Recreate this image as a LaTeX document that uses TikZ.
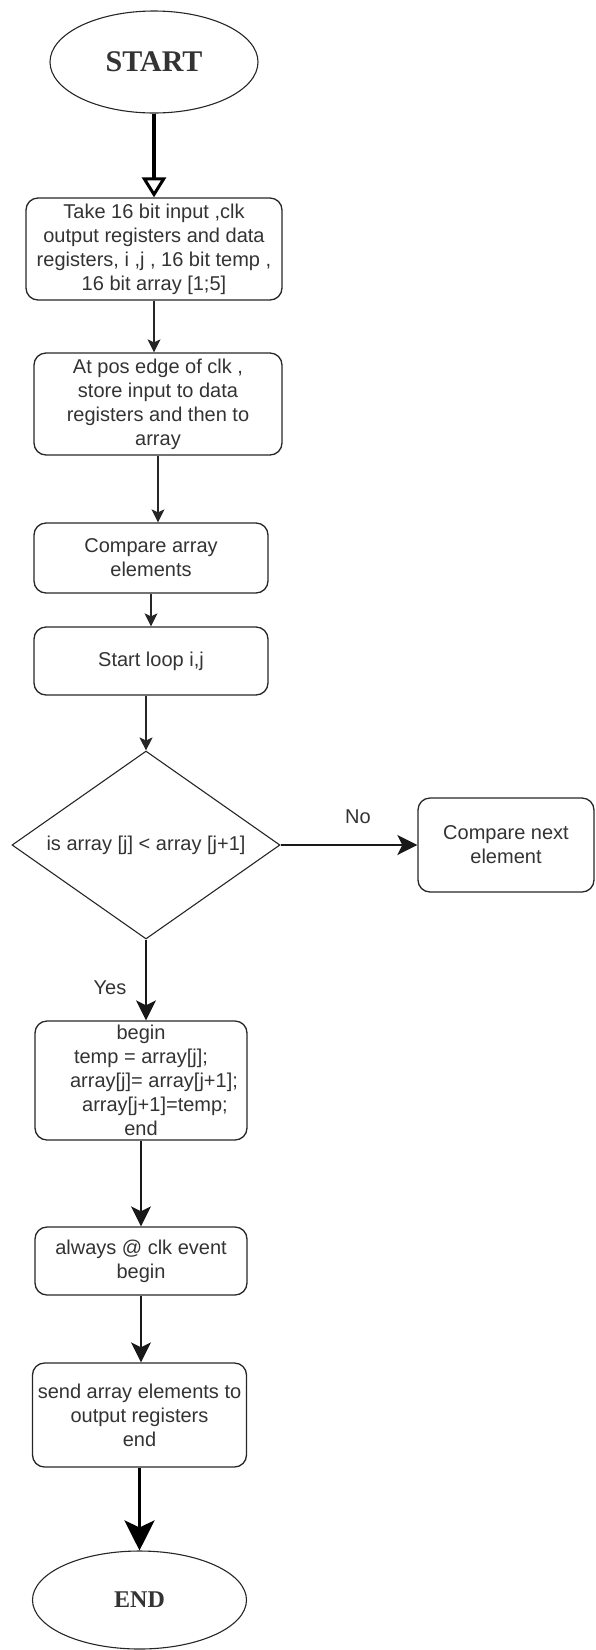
\documentclass[tikz,border=0pt]{standalone}
\usepackage{fontspec}
\setmainfont{Liberation Sans}
\newfontfamily\titlefont{Liberation Serif}
\usetikzlibrary{shapes.geometric,arrows.meta}

\begin{document}
\begin{tikzpicture}[x=1pt,y=-1pt,
    every node/.style={text=black!80, font=\fontsize{20}{24}\selectfont},
    proc/.style={draw=black!85, line width=1.3pt, rounded corners=12pt, align=center, inner sep=0pt},
    term/.style={draw=black!85, line width=1.1pt, ellipse, inner sep=0pt},
    decide/.style={draw=black!85, line width=1.1pt, diamond, inner sep=0pt, align=center},
    flow/.style={draw=black!85, line width=1.3pt, -{Stealth[length=13pt, width=13pt, inset=3pt]}},
    bigflow/.style={draw=black!90, line width=1.6pt, -{Stealth[length=20pt, width=20pt, inset=5pt]}}]
        \useasboundingbox (0,0) rectangle (595,1650);

        % Start
        \node[term, minimum width=208pt, minimum height=102pt] (start) at (154,62)
            {\titlefont\bfseries\fontsize{30}{30}\selectfont START};

        % Process boxes
        \node[proc, minimum width=256pt, minimum height=102pt] (input) at (154,249)
            {Take 16 bit input ,clk\\output registers and data\\registers, i ,j , 16 bit temp ,\\16 bit array [1;5]};
        \node[proc, minimum width=248pt, minimum height=102pt] (store) at (158,404)
            {At pos edge of clk ,\\store input to data\\registers and then to\\array};
        \node[proc, minimum width=234pt, minimum height=70pt] (comp) at (151,558)
            {Compare array\\elements};
        \node[proc, minimum width=234pt, minimum height=68pt] (loop) at (151,661)
            {Start loop i,j};

        % Decision
        \node[decide, minimum width=268pt, minimum height=188pt, aspect=1.43] (check) at (146,845)
            {is array [j] < array [j+1]};
        \node[proc, minimum width=176pt, minimum height=94pt] (next) at (506,845)
            {Compare next\\element};

        % Swap and output
        \node[proc, minimum width=212pt, minimum height=119pt] (swap) at (141,1080.5)
            {begin\\temp = array[j];\\\hspace*{26pt}array[j]= array[j+1];\\\hspace*{28pt}array[j+1]=temp;\\end};
        \node[proc, minimum width=212pt, minimum height=68pt] (event) at (141,1261)
            {always @ clk event\\begin};
        \node[proc, minimum width=214pt, minimum height=104pt] (send) at (139.5,1415)
            {send array elements to\\output registers\\end};

        % End
        \node[term, minimum width=214pt, minimum height=98pt] (stop) at (139.5,1600)
            {\titlefont\bfseries\fontsize{24}{24}\selectfont END};

        % Connectors
        \draw[draw=black, line width=3.5pt, -{Triangle[open, length=20pt, width=24pt, line width=3pt]}]
            (start.south) -- (start.south |- input.north);
        \draw[flow] (input.south) -- (input.south |- store.north);
        \draw[flow] (store.south) -- (store.south |- comp.north);
        \draw[flow] (comp.south) -- (comp.south |- loop.north);
        \draw[flow] (check.north |- loop.south) -- (check.north);
        \draw[bigflow, line width=2pt] (check.east) -- (next.west);
        \draw[bigflow] (check.south) -- (check.south |- swap.north);
        \draw[bigflow] (swap.south) -- (swap.south |- event.north);
        \draw[bigflow] (event.south) -- (event.south |- send.north);
        \draw[draw=black, line width=3.5pt, -{Stealth[length=30pt, width=30pt, inset=7pt]}]
            (send.south) -- (send.south |- stop.north);

        % Labels
        \node (no) at (358,817) {No};
        \node (yes) at (110,988) {Yes};
\end{tikzpicture}
\end{document}
